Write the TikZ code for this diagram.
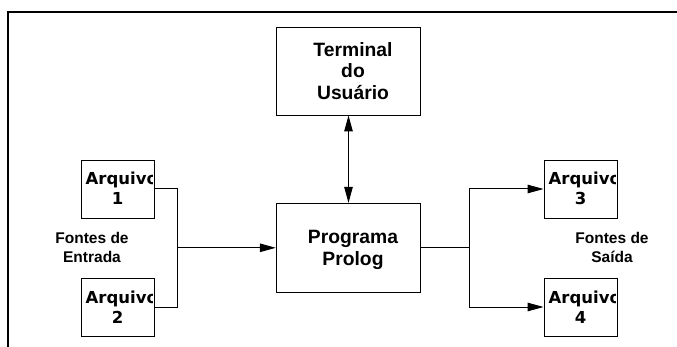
\documentclass[tikz,border=0pt]{standalone}
\usepackage{fontspec}
\setmainfont{Liberation Sans}
\newfontfamily\dejavu{DejaVu Sans}
\usetikzlibrary{arrows.meta}
\begin{document}
\begin{tikzpicture}[x=1pt,y=-1pt,
  bigbox/.style={draw, line width=0.9pt, minimum width=144.5pt, minimum height=88pt, inner sep=0pt},
  filebox/.style={draw, line width=0.9pt, minimum width=73pt, minimum height=58pt, inner sep=0pt},
  bigtext/.style={font=\bfseries\fontsize{19.3}{21.3}\selectfont, align=center, inner sep=0pt},
  sidetext/.style={font=\bfseries\fontsize{15.5}{18.7}\selectfont, align=center, inner sep=0pt},
  filetext/.style={font=\dejavu\bfseries\fontsize{16.5}{20}\selectfont, inner sep=0pt},
  link/.style={line width=1pt},
  arr/.style={link, -{Triangle[length=16pt,width=8.5pt]}},
  dblarr/.style={link, {Triangle[length=16pt,width=8.5pt]}-{Triangle[length=16pt,width=8.5pt]}}]
\useasboundingbox (0,0) rectangle (677,347);
% frame
\draw[line width=1.6pt] (8,347) -- (8,12) -- (677,12);
% main boxes
\node[bigbox] (term) at (348.5,71) {};
\node[bigtext] (termtxt) at (353,71) {Terminal\\do\\Usuário};
\node[bigbox, minimum height=89pt] (prog) at (348.5,247.8) {};
\node[bigtext] (progtxt) at (353,250) {Programa\\Prolog};
% file boxes
\foreach \n/\x/\y in {1/117.5/189, 2/117.5/307, 3/580.5/189, 4/580.5/307} {
  \node[filebox] (a\n) at (\x,\y) {};
  \begin{scope}
    \clip (\x-36,\y-28.6) rectangle (\x+35,\y+28.6);
    \node[filetext, anchor=base west] (a\n-l1) at (\x-32,\y-4) {Arquivo};
    \node[filetext, anchor=base] (a\n-l2) at (\x,\y+16) {\n};
  \end{scope}
}
% labels
\node[sidetext] (inlbl) at (92,247.8) {Fontes de\\Entrada};
\node[sidetext] (outlbl) at (612,247.8) {Fontes de\\Saída};
% connectors
\coordinate (jl) at (177,247.8);
\coordinate (jr) at (469.3,247.8);
\draw[link] (a1.east) -| (jl);
\draw[link] (a2.east) -| (jl);
\draw[arr] (jl) -- (prog.west);
\draw[link] (prog.east) -- (jr);
\draw[arr] (jr) |- (a3.west);
\draw[arr] (jr) |- (a4.west);
\draw[dblarr] (term.south) -- (prog.north);
\end{tikzpicture}
\end{document}
